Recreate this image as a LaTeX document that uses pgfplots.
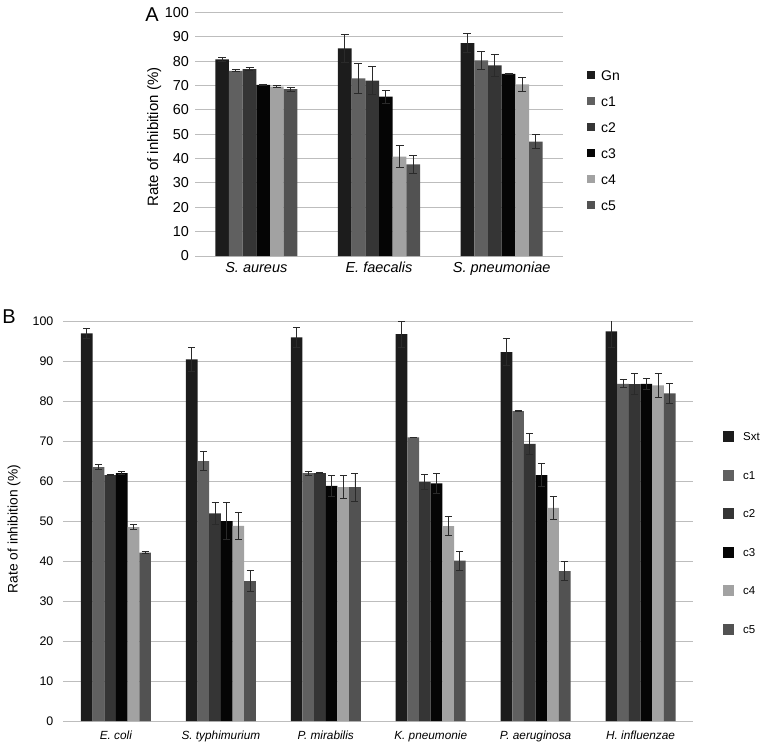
\documentclass[border=0pt]{standalone}
\usepackage{fontspec}
\setmainfont{Liberation Sans}
\usepackage{pgfplots}
\usepackage{pgfplotstable}
\pgfplotsset{compat=1.18}
\definecolor{sA}{HTML}{1C1C1C}
\definecolor{sB}{HTML}{606060}
\definecolor{sC}{HTML}{353535}
\definecolor{sD}{HTML}{050505}
\definecolor{sE}{HTML}{A2A2A2}
\definecolor{sF}{HTML}{525252}
\definecolor{gridc}{HTML}{BDBDBD}
\definecolor{errc}{HTML}{2A2A2A}

% Panel A data: x value error
\pgfplotstableread{
x y e
0 80.7 0.7
1 85.2 5.6
2 87.4 3.8
}\AGn
\pgfplotstableread{
x y e
0 76.0 0.4
1 72.9 6.0
2 80.3 3.8
}\Aca
\pgfplotstableread{
x y e
0 76.7 0.5
1 72.0 5.6
2 78.2 4.4
}\Acb
\pgfplotstableread{
x y e
0 70.2 0.2
1 65.4 2.7
2 74.7 0.2
}\Acc
\pgfplotstableread{
x y e
0 69.5 0.5
1 40.8 4.6
2 70.4 2.7
}\Acd
\pgfplotstableread{
x y e
0 68.5 0.8
1 37.6 3.6
2 46.9 2.8
}\Ace

% Panel B data
\pgfplotstableread{
x y e
0 96.9 1.2
1 90.4 2.9
2 95.9 2.4
3 96.7 3.2
4 92.2 3.4
5 97.4 4.0
}\BSxt
\pgfplotstableread{
x y e
0 63.5 0.6
1 65.0 2.4
2 62.0 0.5
3 70.9 0.1
4 77.5 0.2
5 84.3 1.0
}\Bca
\pgfplotstableread{
x y e
0 61.5 0.2
1 51.9 2.8
2 62.0 0.1
3 59.8 1.8
4 69.3 2.7
5 84.2 2.6
}\Bcb
\pgfplotstableread{
x y e
0 62.0 0.3
1 50.0 4.7
2 58.8 2.7
3 59.4 2.5
4 61.5 2.8
5 84.3 1.3
}\Bcc
\pgfplotstableread{
x y e
0 48.5 0.6
1 48.8 3.3
2 58.5 2.9
3 48.7 2.4
4 53.3 2.9
5 83.9 2.9
}\Bcd
\pgfplotstableread{
x y e
0 42.1 0.2
1 35.0 2.7
2 58.5 3.5
3 40.1 2.4
4 37.5 2.3
5 81.9 2.4
}\Bce

\pgfplotsset{
  common/.style={
    scale only axis,
    clip mode=individual,
    ybar=0pt,
    ymin=0, ymax=100, ytick={0,10,...,100},
    ymajorgrids,
    major grid style={draw=gridc, line width=0.9pt},
    axis line style={draw=none},
    major tick length=0pt,
    tick style={draw=none},
    /pgf/number format/assume math mode=true,
    legend cell align=left,
  },
  eb/.style={
    error bars/.cd, y dir=both, y explicit,
    error bar style={draw=errc, line width=0.8pt},
    error mark options={draw=errc, line width=0.8pt, mark size=#1, rotate=90},
  },
  sqA/.style={legend image code/.code={\fill[##1] (0pt,1pt) rectangle (8pt,9pt);}},
  sqB/.style={legend image code/.code={\fill[##1] (0pt,-1.5pt) rectangle (11pt,9.5pt);}},
}

\begin{document}
\begin{tikzpicture}
\path[use as bounding box] (0,0) rectangle (765pt,-748pt);

% ---------------- Panel A ----------------
\begin{axis}[
  common,
  at={(195pt,-256pt)}, anchor=south west,
  width=368pt, height=243.7pt,
  bar width=13.67pt,
  xmin=-0.5, xmax=2.5,
  xtick={0,1,2},
  xticklabels={\textit{S. aureus},\textit{E. faecalis},\textit{S. pneumoniae}},
  xticklabel style={font=\fontsize{14.5}{16}\selectfont, anchor=north, inner sep=0pt, yshift=-6pt},
  yticklabel style={font=\fontsize{14.4}{16}\selectfont, anchor=east, inner sep=0pt, xshift=-6pt},
  ylabel={Rate of inhibition (\%)},
  ylabel style={font=\fontsize{15}{17}\selectfont, at={(axis description cs:-0.111,0.488)}, anchor=center, rotate=0},
  legend style={draw=none, fill=none, inner sep=0pt, at={(1.065,0.763)}, anchor=north west,
    row sep=13pt, column sep=6pt, font=\fontsize{14}{16}\selectfont,
    nodes={inner sep=0pt, text height=10pt, text depth=3pt, anchor=base west}},
]
\addplot[fill=sA, draw=none, sqA, eb=4pt] table[x=x, y=y, y error=e] {\AGn};
\addplot[fill=sB, draw=none, sqA, eb=4pt] table[x=x, y=y, y error=e] {\Aca};
\addplot[fill=sC, draw=none, sqA, eb=4pt] table[x=x, y=y, y error=e] {\Acb};
\addplot[fill=sD, draw=none, sqA, eb=4pt] table[x=x, y=y, y error=e] {\Acc};
\addplot[fill=sE, draw=none, sqA, eb=4pt] table[x=x, y=y, y error=e] {\Acd};
\addplot[fill=sF, draw=none, sqA, eb=4pt] table[x=x, y=y, y error=e] {\Ace};
\legend{Gn,c1,c2,c3,c4,c5}
\node[font=\fontsize{20}{22}\selectfont, anchor=center] at (axis description cs:-0.117,0.989) {A};
\end{axis}

% ---------------- Panel B ----------------
\begin{axis}[
  common,
  at={(63.5pt,-721pt)}, anchor=south west,
  width=629.5pt, height=400pt,
  bar width=11.67pt,
  xmin=-0.5, xmax=5.5,
  xtick={0,1,2,3,4,5},
  xticklabels={\textit{E. coli},\textit{S. typhimurium},\textit{P. mirabilis},\textit{K. pneumonie},\textit{P. aeruginosa},\textit{H. influenzae}},
  xticklabel style={font=\fontsize{11.8}{14}\selectfont, anchor=north, inner sep=0pt, yshift=-10pt},
  yticklabel style={font=\fontsize{12.4}{14}\selectfont, anchor=east, inner sep=0pt, xshift=-10pt},
  ylabel={Rate of inhibition (\%)},
  ylabel style={font=\fontsize{13.8}{16}\selectfont, at={(axis description cs:-0.0786,0.48)}, anchor=center, rotate=0},
  legend style={draw=none, fill=none, inner sep=0pt, at={(1.0477,0.725)}, anchor=north west,
    row sep=26pt, column sep=9pt, font=\fontsize{11.5}{14}\selectfont,
    nodes={inner sep=0pt, text height=9pt, text depth=3pt, anchor=base west}},
]
\addplot[fill=sA, draw=none, sqB, eb=3.5pt] table[x=x, y=y, y error=e] {\BSxt};
\addplot[fill=sB, draw=none, sqB, eb=3.5pt] table[x=x, y=y, y error=e] {\Bca};
\addplot[fill=sC, draw=none, sqB, eb=3.5pt] table[x=x, y=y, y error=e] {\Bcb};
\addplot[fill=sD, draw=none, sqB, eb=3.5pt] table[x=x, y=y, y error=e] {\Bcc};
\addplot[fill=sE, draw=none, sqB, eb=3.5pt] table[x=x, y=y, y error=e] {\Bcd};
\addplot[fill=sF, draw=none, sqB, eb=3.5pt] table[x=x, y=y, y error=e] {\Bce};
\legend{Sxt,c1,c2,c3,c4,c5}
\node[font=\fontsize{20}{22}\selectfont, anchor=center] at (axis description cs:-0.0866,1.011) {B};
\end{axis}
\end{tikzpicture}
\end{document}
